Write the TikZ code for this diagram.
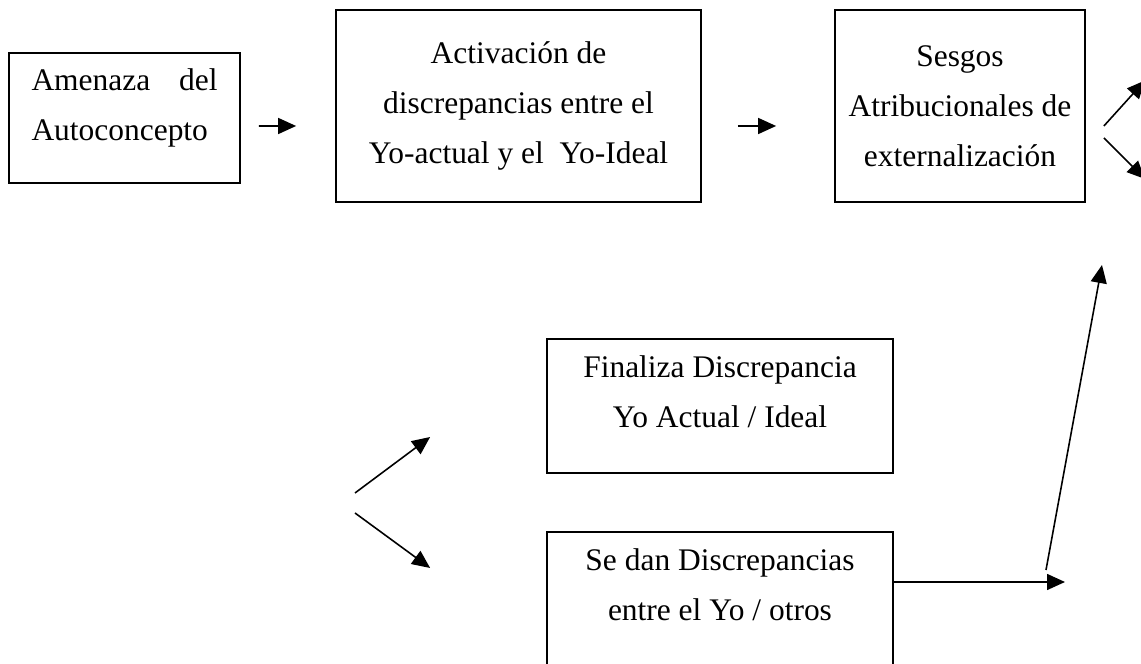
\documentclass[tikz,border=0pt]{standalone}
\usepackage{fontspec}
\setmainfont{Liberation Serif}
\usetikzlibrary{arrows.meta}

\begin{document}
\begin{tikzpicture}[
  caja/.style={draw,line width=1pt,align=center,inner sep=0pt,
               font=\fontsize{17.9}{28.5}\selectfont},
  flecha/.style={line width=0.9pt,-{Triangle[length=0.36cm,width=0.32cm]}},
]
\useasboundingbox (0,0) rectangle (22.82,13.28);
\node[caja,minimum width=4.62cm,minimum height=2.6cm] (amenaza) at (2.49,10.92) {
  \makebox[3.72cm][s]{Amenaza\hfill del}\\
  \makebox[3.72cm][l]{Autoconcepto\rule[-0.55cm]{0pt}{0.55cm}}
};
\node[caja,minimum width=7.3cm,minimum height=3.84cm] (activ) at (10.37,11.16) {
  Activación de\\
  discrepancias entre el\\
  Yo-actual y el \ Yo-Ideal
};
\node[caja,minimum width=5cm,minimum height=3.84cm] (sesgos) at (19.2,11.16) {
  Sesgos\\
  Atribucionales de\\
  externalización
};
\node[caja,minimum width=6.92cm,minimum height=2.68cm] (finaliza) at (14.4,5.16) {
  Finaliza Discrepancia\\
  Yo Actual / Ideal\rule[-0.57cm]{0pt}{0.57cm}
};
\node[caja,minimum width=6.92cm,minimum height=2.68cm] (sedan) at (14.4,1.30) {
  Se dan Discrepancias\\
  entre el Yo / otros\rule[-0.57cm]{0pt}{0.57cm}
};

\coordinate (salidaA) at (22.9,11.67);
\coordinate (salidaB) at (22.9,9.70);
\coordinate (bifurca) at (7.10,3.22);
\coordinate (destino) at (21.30,1.64);
\coordinate (subida) at (20.92,1.88);
\coordinate (llegada) at (22.04,7.98);

\draw[flecha] ([xshift=0.36cm,yshift=-0.16cm]amenaza.east) -- ([xshift=-0.78cm,yshift=-0.40cm]activ.west);
\draw[flecha] ([xshift=0.72cm,yshift=-0.40cm]activ.east) -- ([xshift=-1.16cm,yshift=-0.40cm]sesgos.west);
\draw[flecha] ([xshift=0.36cm,yshift=-0.40cm]sesgos.east) -- (salidaA);
\draw[flecha] ([xshift=0.36cm,yshift=-0.64cm]sesgos.east) -- (salidaB);
\draw[flecha] ([yshift=0.2cm]bifurca) -- ([xshift=-2.32cm,yshift=-0.62cm]finaliza.west);
\draw[flecha] ([yshift=-0.2cm]bifurca) -- ([xshift=-2.32cm,yshift=0.62cm]sedan.west);
\draw[flecha] ([yshift=0.34cm]sedan.east) -- (destino);
\draw[flecha] (subida) -- (llegada);
\end{tikzpicture}
\end{document}
